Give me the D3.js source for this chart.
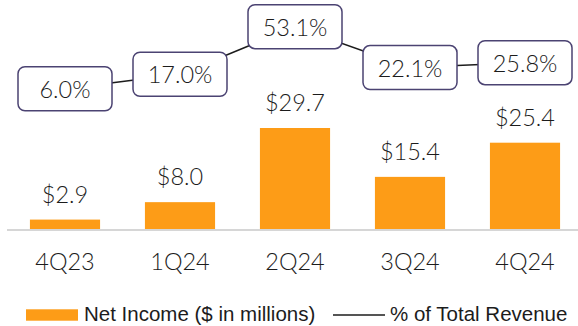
<!DOCTYPE html>
<html>
<head>
<meta charset="utf-8">
<script src="https://cdn.jsdelivr.net/npm/d3@7"></script>
<style>
  html, body { margin: 0; padding: 0; background: #fff; }
  svg { display: block; }
</style>
</head>
<body>
<svg id="chart" width="578" height="326"></svg>
<script>
// Quarterly net income and margin
const quarters = ["4Q23", "1Q24", "2Q24", "3Q24", "4Q24"];
const netIncome = [2.9, 8.0, 29.7, 15.4, 25.4];          // $ in millions
const pctOfRevenue = [6.0, 17.0, 53.1, 22.1, 25.8];      // % of total revenue
const legendLabels = ["Net Income ($ in millions)", "% of Total Revenue"];

const W = 578, H = 326;
const labelFont = "Lato, 'Open Sans', sans-serif";
const labelWeight = 300;
const labelSize = 23.5;
const legendFont = "'Liberation Sans', Arial, sans-serif";
const barColor = "#fd9c17";
const boxStroke = "#4b4372";
const ink = "#1c1c1c";

const svg = d3.select("#chart");

const x = d3.scaleBand()
  .domain(quarters)
  .range([7.5, 582.5])
  .paddingInner(0.39)
  .paddingOuter(0.195);

const baseY = 229.5;
const y = d3.scaleLinear().domain([0, 29.7]).range([baseY, 128]);
const yPct = d3.scaleLinear().domain([0, 53.1]).range([96.7, 26.7]);

// Bars
svg.append("g").selectAll("rect")
  .data(netIncome)
  .join("rect")
  .attr("x", (d, i) => x(quarters[i]))
  .attr("y", d => y(d))
  .attr("width", x.bandwidth())
  .attr("height", d => y(0) - y(d))
  .attr("fill", barColor);

// Baseline axis
const xAxis = svg.append("g")
  .attr("transform", `translate(0,${baseY + 0.5})`)
  .call(d3.axisBottom(x).tickSize(0).tickPadding(24));
xAxis.select(".domain").attr("d", "M7,0H578").attr("stroke", "#d6d6d6").attr("stroke-width", 2);
xAxis.selectAll("text")
  .attr("font-family", labelFont)
  .attr("font-weight", labelWeight)
  .attr("font-size", labelSize)
  .attr("fill", ink)
  .attr("dy", null)
  .attr("y", 40);

// Value labels over bars
svg.append("g").selectAll("text")
  .data(netIncome)
  .join("text")
  .attr("x", (d, i) => x(quarters[i]) + x.bandwidth() / 2)
  .attr("y", d => y(d) - 17)
  .attr("text-anchor", "middle")
  .attr("font-family", labelFont)
  .attr("font-weight", labelWeight)
  .attr("font-size", labelSize)
  .attr("fill", ink)
  .text(d => "$" + d.toFixed(1));

// Margin line with boxed labels
const cx = (d, i) => x(quarters[i]) + x.bandwidth() / 2;
const line = d3.line().x((d, i) => cx(d, i)).y(d => yPct(d));
svg.append("path")
  .datum(pctOfRevenue)
  .attr("d", line)
  .attr("fill", "none")
  .attr("stroke", ink)
  .attr("stroke-width", 1.5);

const boxW = 94, boxH = 44;
const boxes = svg.append("g").selectAll("g")
  .data(pctOfRevenue)
  .join("g")
  .attr("transform", (d, i) => `translate(${cx(d, i)},${yPct(d)})`);
boxes.append("rect")
  .attr("x", -boxW / 2).attr("y", -boxH / 2)
  .attr("width", boxW).attr("height", boxH)
  .attr("rx", 7)
  .attr("fill", "#fff")
  .attr("stroke", boxStroke)
  .attr("stroke-width", 1.5);
boxes.append("text")
  .attr("text-anchor", "middle")
  .attr("y", 9)
  .attr("font-family", labelFont)
  .attr("font-weight", labelWeight)
  .attr("font-size", labelSize)
  .attr("fill", ink)
  .text(d => d.toFixed(1) + "%");

// Legend
const legend = svg.append("g");
legend.append("rect")
  .attr("x", 26).attr("y", 309.3).attr("width", 52).attr("height", 11.4)
  .attr("fill", barColor);
legend.append("text")
  .attr("x", 84).attr("y", 320.5)
  .attr("font-family", legendFont).attr("font-size", 20.5).attr("fill", ink)
  .text(legendLabels[0]);
legend.append("line")
  .attr("x1", 333).attr("x2", 385).attr("y1", 315).attr("y2", 315)
  .attr("stroke", ink).attr("stroke-width", 1.5);
legend.append("text")
  .attr("x", 390).attr("y", 320.5)
  .attr("font-family", legendFont).attr("font-size", 20.5).attr("fill", ink)
  .text(legendLabels[1]);
</script>
</body>
</html>
